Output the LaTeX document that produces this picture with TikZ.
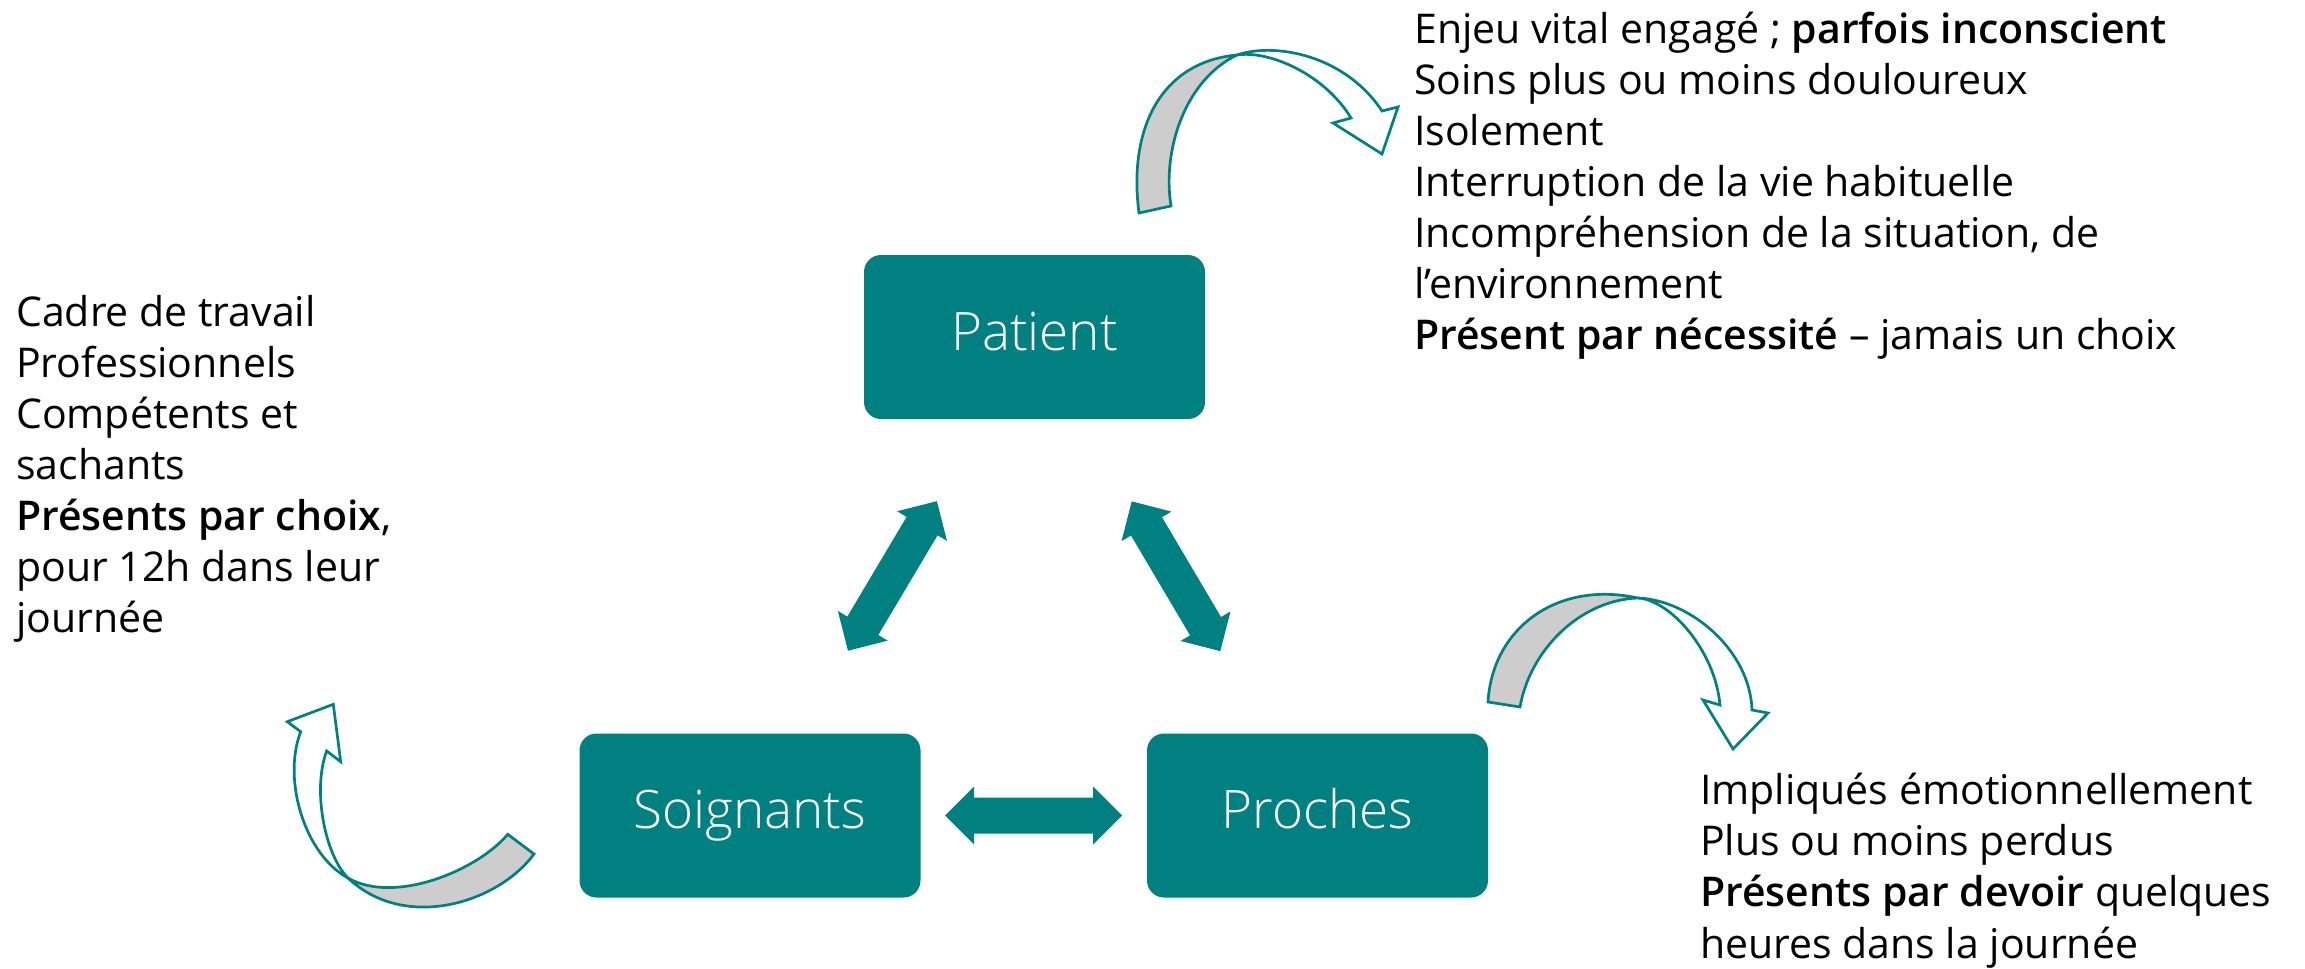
\documentclass[tikz,border=0pt]{standalone}
\usepackage{fontspec}
\IfFontExistsTF{Open Sans SemiBold}{\setmainfont{Open Sans}[BoldFont={Open Sans SemiBold}]}{%
  \IfFontExistsTF{Open Sans Semibold}{\setmainfont{Open Sans}[BoldFont={Open Sans Semibold}]}{\setmainfont{Open Sans}}}
\IfFontExistsTF{Open Sans Light}{\newfontfamily\boxfont{Open Sans Light}}{\newfontfamily\boxfont{Open Sans}}
\usetikzlibrary{calc}
\definecolor{tealbox}{RGB}{0,128,128}
\definecolor{bandgray}{RGB}{205,205,205}
\newcommand\dblarr[6]{%
  \coordinate (da) at ($(#1)!#3!(#2)$);
  \coordinate (db) at ($(#1)!#4!(#2)$);
  \coordinate (dc) at ($(#1)!#5!(#2)$);
  \coordinate (dd) at ($(#1)!#6!(#2)$);
  \fill[arrowfill] (da) -- ($(db)!29pt!90:(#2)$) -- ($(db)!18pt!90:(#2)$)
    -- ($(dc)!18pt!90:(#2)$) -- ($(dc)!29pt!90:(#2)$) -- (dd)
    -- ($(dc)!29pt!-90:(#2)$) -- ($(dc)!18pt!-90:(#2)$)
    -- ($(db)!18pt!-90:(#2)$) -- ($(db)!29pt!-90:(#2)$) -- cycle;}
\begin{document}
\begin{tikzpicture}[x=1pt,y=-1pt,
  box/.style={fill=tealbox, rounded corners=17pt, minimum width=341pt, minimum height=164pt,
    text=white, font=\boxfont\fontsize{53}{60}\selectfont, text height=40pt, text depth=14pt, inner sep=0pt},
  txt/.style={anchor=base west, align=left, inner sep=0pt, font=\fontsize{41}{51.1}\selectfont},
  curvefront/.style={draw=tealbox, line width=2.7pt, fill=white, line join=miter},
  curveback/.style={draw=tealbox, line width=2.7pt, fill=bandgray},
  arrowfill/.style={fill=tealbox}]
\fill[white] (0,0) rectangle (2305,969);
\useasboundingbox (0,0) rectangle (2305,969);

% boxes
\node[box] (patient) at (1034.5,337) {Patient};
\node[box] (soignants) at (750,815.5) {Soignants};
\node[box] (proches) at (1317.5,815.5) {Proches};

% double arrows
\dblarr{patient}{soignants}{191pt}{220pt}{336pt}{365pt}
\dblarr{patient}{proches}{191pt}{220pt}{336pt}{365pt}
\dblarr{soignants}{proches}{195pt}{224pt}{343pt}{372pt}

% curved arrow near Patient
\draw[curveback] (1139,213) .. controls (1128,130) and (1160,62) .. (1237,55)
  .. controls (1185,80) and (1162,150) .. (1171,206) -- cycle;
\draw[curvefront] (1237,55) .. controls (1275,42) and (1345,55) .. (1382,111)
  -- (1398,107) -- (1382,154) -- (1333,123) -- (1351,118)
  .. controls (1325,75) and (1270,50) .. (1237,55) -- cycle;

% curved arrow near Proches
\draw[curveback] (1488,702) .. controls (1492,630) and (1555,580) .. (1638,598)
  .. controls (1580,600) and (1530,650) .. (1520,707) -- cycle;
\draw[curvefront] (1638,598) .. controls (1690,600) and (1750,650) .. (1752,710)
  -- (1768,713) -- (1733,749) -- (1703,700) -- (1720,705)
  .. controls (1715,650) and (1670,600) .. (1638,598) -- cycle;

% curved arrow near Soignants
\draw[curveback] (507.7,834.3) .. controls (478,870) and (395,905) .. (348,878)
  .. controls (405,932) and (498,903) .. (534,854) -- cycle;
\draw[curvefront] (348,878) .. controls (305,855) and (282,780) .. (300.7,731.7)
  -- (287.3,721.7) -- (333.3,704.3) -- (340.7,761.7) -- (326.7,751)
  .. controls (312,790) and (325,855) .. (348,878) -- cycle;

% texts (base anchor = baseline of the last line)
\node[txt] (ttop) at (1414,349.9) {Enjeu vital engagé ; \textbf{parfois inconscient}\\Soins plus ou moins douloureux\\Isolement\\Interruption de la vie habituelle\\Incompréhension de la situation, de\\l’environnement\\\textbf{Présent par nécessité} – jamais un choix};
\node[txt] (tleft) at (16,632.6) {Cadre de travail\\Professionnels\\Compétents et\\sachants\\\textbf{Présents par choix},\\pour 12h dans leur\\journée};
\node[txt] (tright) at (1700,958) {Impliqués émotionnellement\\Plus ou moins perdus\\\textbf{Présents par devoir} quelques\\heures dans la journée};
\end{tikzpicture}
\end{document}
